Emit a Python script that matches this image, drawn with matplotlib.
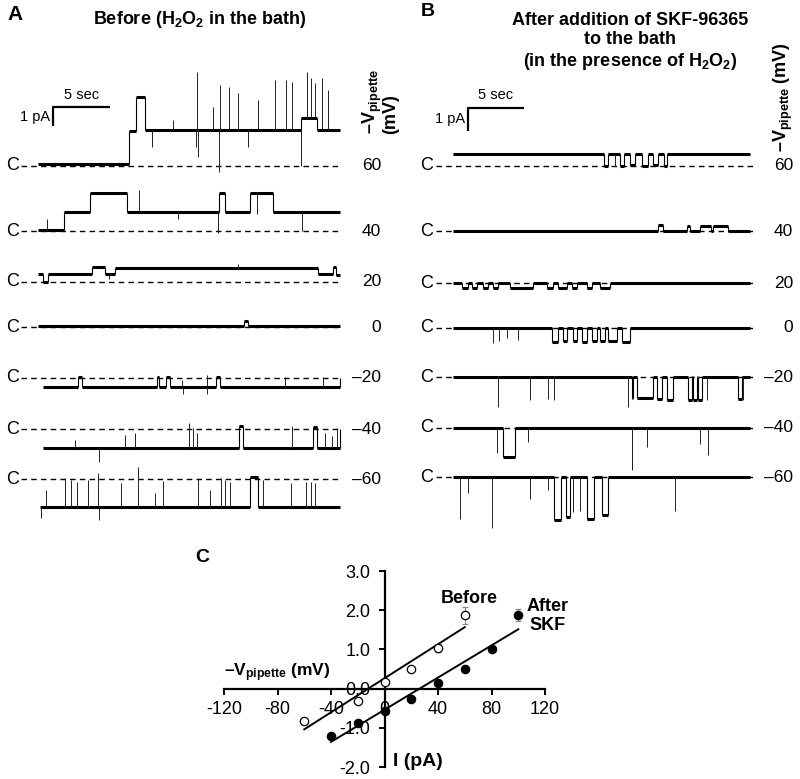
import numpy as np
import matplotlib
matplotlib.use("Agg")
import matplotlib.pyplot as plt

plt.rcParams['font.family'] = ['Liberation Sans', 'DejaVu Sans']
plt.rcParams['mathtext.fontset'] = 'custom'
plt.rcParams['mathtext.rm'] = 'Liberation Sans'
plt.rcParams['mathtext.bf'] = 'Liberation Sans:bold'
plt.rcParams['axes.unicode_minus'] = False

# ---- data: holding potentials ----
volts = [60, 40, 20, 0, -20, -40, -60]

# ---- panel A traces (Before): segments (t0, t1, pA), short events, spikes (t, pA) ----
A60_seg = [(0, 8.0, 0.1), (8.0, 8.6, 1.8), (8.6, 9.4, 3.6), (9.4, 23.2, 1.87), (23.2, 24.6, 2.5), (24.6, 26.6, 1.87)]
A60_evt = []
A60_spk = [(11.93, 2.38), (14.0, 4.89), (15.46, 3.07), (16.05, 4.2), (16.84, 4.11), (17.61, 3.77), (19.37, 3.42),
           (20.9, 4.46), (21.87, 4.46), (22.4, 4.37), (23.75, 4.89), (24.1, 4.54), (24.4, 4.3), (25.04, 4.54),
           (25.6, 3.94), (10.02, 1.0), (13.93, 1.0), (14.1, 0.48), (15.96, -0.3), (18.55, 1.0), (23.19, 0.0)]

A40_seg = [(0, 2.3, 0.05), (2.3, 4.59, 1.0), (4.59, 7.82, 1.98), (7.82, 16.0, 1.0), (16.0, 16.45, 1.98),
           (16.45, 18.7, 1.0), (18.7, 20.75, 1.98), (20.75, 26.6, 1.0)]
A40_evt = []
A40_spk = [(0.77, 0.6), (8.94, 2.1), (19.3, 0.9), (12.37, 0.6), (15.85, -0.1), (23.25, 0.0)]

A20_seg = [(0, 0.45, 0.4), (0.45, 0.9, 0.0), (0.9, 4.73, 0.4), (4.73, 5.9, 0.8), (5.9, 6.79, 0.4),
           (6.79, 24.7, 0.72), (24.7, 26.0, 0.4), (26.0, 26.3, 0.8), (26.3, 26.6, 0.35)]
A20_evt = []
A20_spk = [(17.6, 0.95), (6.3, 0.15)]

A0_seg = [(0, 26.6, 0.05)]
A0_evt = [(18.2, 18.55, 0.3)]
A0_spk = []

Am20_seg = [(0.4, 26.6, -0.45)]
Am20_evt = [(3.56, 3.85, 0.05), (10.47, 10.7, 0.05), (11.26, 11.64, 0.05), (15.7, 16.05, 0.05)]
Am20_spk = [(12.67, -0.1), (14.87, 0.15), (21.78, 0.05), (25.16, 0.05), (12.8, -0.85), (14.9, -0.85)]

Am40_seg = [(0.4, 26.6, -0.97)]
Am40_evt = [(17.72, 18.05, 0.15), (24.28, 24.63, 0.1)]
Am40_spk = [(8.55, -0.22), (13.34, 0.3), (13.64, 0.05), (14.0, -0.2), (22.37, 0.14), (25.3, -0.2),
            (25.9, -0.35), (26.4, 0.05), (5.41, -1.69), (3.26, -0.57), (7.67, -0.3)]

Am60_seg = [(0.2, 26.6, -1.43)]
Am60_evt = [(18.7, 19.43, 0.1)]
Am60_spk = [(0.25, -2.0), (0.71, -0.57), (2.38, 0.03), (2.88, -0.05), (3.41, -0.14), (4.44, -0.05), (5.26, 0.29),
            (5.35, -2.12), (7.29, -0.21), (8.79, 0.64), (10.32, -0.72), (11.05, -0.12), (14.14, 0.05),
            (15.17, -0.55), (16.14, 0.05), (16.49, -0.05), (16.93, -0.14), (19.87, -0.05), (22.28, -0.21),
            (23.63, -0.14), (24.05, -0.14), (24.43, -0.21)]

# ---- panel B traces (After SKF-96365) ----
B60_seg = [(0, 26.5, 0.52)]
B60_evt = [(13.48, 13.87, 0.0), (14.9, 15.27, 0.0), (15.8, 16.25, 0.05), (16.85, 17.44, 0.0),
           (17.9, 18.33, 0.05), (18.8, 19.13, 0.0)]
B60_spk = [(14.46, 0.0)]

B40_seg = [(0, 26.5, 0.0)]
B40_evt = [(18.33, 18.78, 0.25), (20.86, 21.16, 0.2), (22.05, 23.0, 0.2), (23.2, 24.58, 0.2)]
B40_spk = []

B20_seg = [(0, 26.5, 0.0)]
B20_evt = [(0.77, 1.37, -0.23), (1.67, 2.11, -0.23), (2.71, 3.15, -0.23), (3.6, 4.05, -0.23), (5.09, 7.17, -0.23),
           (8.37, 8.96, -0.23), (9.4, 10.15, -0.23), (10.6, 11.04, -0.23), (11.94, 12.38, -0.23), (13.13, 14.0, -0.23)]
B20_spk = []

B0_seg = [(0, 26.5, 0.0)]
B0_evt = [(8.81, 9.4, -0.6), (9.85, 10.15, -0.55), (10.74, 11.1, -0.55), (11.49, 11.94, -0.6),
          (12.38, 12.83, -0.55), (13.13, 13.57, -0.55), (13.87, 14.61, -0.55), (15.06, 15.8, -0.6)]
B0_spk = [(3.54, -0.66), (4.11, -0.55), (4.79, -0.45), (5.83, -0.5)]

Bm20_seg = [(0, 26.5, 0.0)]
Bm20_evt = [(15.95, 16.1, -0.9), (16.46, 17.88, -0.9), (18.18, 18.63, -0.95), (19.08, 19.67, -1.0),
            (21.01, 21.31, -1.0), (21.46, 21.76, -1.0), (21.9, 22.2, -1.0), (25.48, 25.78, -0.95)]
Bm20_spk = [(3.99, -1.3), (6.88, -1.0), (8.51, -0.93), (9.02, -1.0), (15.65, -1.3), (22.71, -1.0), (25.92, -1.0)]

Bm40_seg = [(0, 26.5, 0.0)]
Bm40_evt = [(4.44, 5.54, -1.25)]
Bm40_spk = [(3.9, -1.07), (6.73, -0.6), (15.95, -1.8), (17.29, -0.8), (22.05, -0.7), (22.8, -1.15)]

Bm60_seg = [(0, 26.5, 0.0)]
Bm60_evt = [(9.02, 9.61, -1.85), (10.09, 10.45, -1.7), (11.94, 12.59, -1.8), (13.27, 13.87, -1.65)]
Bm60_spk = [(0.63, -1.8), (1.37, -0.7), (3.45, -2.2), (6.88, -0.95), (8.51, -0.55), (10.74, -1.5),
            (11.34, -1.45), (19.82, -1.45)]

A_traces = [(A60_seg, A60_evt, A60_spk), (A40_seg, A40_evt, A40_spk), (A20_seg, A20_evt, A20_spk),
            (A0_seg, A0_evt, A0_spk), (Am20_seg, Am20_evt, Am20_spk), (Am40_seg, Am40_evt, Am40_spk),
            (Am60_seg, Am60_evt, Am60_spk)]
B_traces = [(B60_seg, B60_evt, B60_spk), (B40_seg, B40_evt, B40_spk), (B20_seg, B20_evt, B20_spk),
            (B0_seg, B0_evt, B0_spk), (Bm20_seg, Bm20_evt, Bm20_spk), (Bm40_seg, Bm40_evt, Bm40_spk),
            (Bm60_seg, Bm60_evt, Bm60_spk)]

# ---- panel C: I-V data ----
iv_v_before = [-60, -20, 0, 20, 40, 60]
iv_i_before = [-0.82, -0.31, 0.18, 0.49, 1.04, 1.87]
iv_e_before = [0.05, 0.05, 0.04, 0.04, 0.1, 0.22]
iv_v_after = [-40, -20, 0, 20, 40, 60, 80, 100]
iv_i_after = [-1.21, -0.87, -0.56, -0.26, 0.15, 0.49, 1.0, 1.87]
iv_e_after = [0.08, 0.05, 0.05, 0.04, 0.05, 0.05, 0.05, 0.15]

# ---- layout (pixels of the 800x779 figure) ----
W, H = 800, 779
fig = plt.figure(figsize=(W / 100, H / 100), dpi=100)


def fx(px):
    return px / W


def fy(py):
    return 1 - py / H


def step_runs(seg, evt, dt=0.005):
    t0 = min(s[0] for s in seg)
    t1 = max(s[1] for s in seg)
    t = np.arange(t0, t1, dt)
    y = np.zeros_like(t)
    for a, b, v in list(seg) + list(evt):
        y[(t >= a) & (t < b)] = v
    idx = np.flatnonzero(np.diff(y)) + 1
    starts = np.r_[0, idx]
    ends = np.r_[idx, len(t)]
    return t, y, [(t[s], t[e - 1] + dt, y[s]) for s, e in zip(starts, ends)]


def draw_panel(traces, bases, x0, pps, ppa, dash0, dash1, c_x, lab_x):
    axs = []
    for (seg, evt, spk), base, v in zip(traces, bases, volts):
        lo, hi = -4.0, 5.0
        ax = fig.add_axes([fx(dash0), fy(base + (-lo) * ppa), fx(dash1 - dash0), (hi - lo) * ppa / H])
        ax.set_xlim((dash0 - x0) / pps, (dash1 - x0) / pps)
        ax.set_ylim(lo, hi)
        ax.axis('off')
        ax.patch.set_alpha(0)
        xl = ax.get_xlim()
        ax.hlines(0, xl[0], xl[1], colors='black', lw=1.0, linestyles=(0, (4, 3)), zorder=1)
        t, y, runs = step_runs(seg, evt)
        for a, b, lv in runs:
            ax.hlines(lv, a, b, colors='black', lw=2.2, zorder=3)
        for r0, r1 in zip(runs[:-1], runs[1:]):
            ax.vlines(r0[1], r0[2], r1[2], colors='black', lw=0.8, zorder=3)
        for ts, lv in spk:
            yb = y[np.argmin(np.abs(t - ts))]
            ax.vlines(ts, yb, lv, colors='#222222', lw=0.7, zorder=3)
        ax.text((c_x - x0) / pps, 0, 'C', ha='right', va='center', fontsize=13)
        ax.text((lab_x - x0) / pps, 0, f"{v}".replace('-', '\u2013'), ha='right', va='center', fontsize=12.5)
        axs.append(ax)
    return axs


A_bases = [166, 231, 282, 327, 378, 429, 479]
B_bases = [166, 231, 283, 328, 377, 428, 477]

axA = draw_panel(A_traces, A_bases, 38, 11.34, 19.3, 21, 342, 19, 381)
axB = draw_panel(B_traces, B_bases, 453, 11.2, 23.3, 436, 753, 433, 793)

# scale bars (1 pA, 5 sec)
for ax, tc, yc in [(axA[0], 1.32, 3.06), (axB[0], 1.34, 2.5)]:
    ax.plot([tc, tc, tc + 5], [yc - 1, yc, yc], color='black', lw=1.6, solid_capstyle='butt')
    ax.text(tc + 2.5, yc + 0.25, '5 sec', ha='center', va='bottom', fontsize=10.5)
    ax.text(tc - 0.25, yc - 0.5, '1 pA', ha='right', va='center', fontsize=10.5)

# titles and panel letters
fig.text(fx(7), fy(15), 'A', fontsize=15, fontweight='bold', va='center', ha='left')
fig.text(fx(421), fy(12), 'B', fontsize=14, fontweight='bold', va='center', ha='left')
fig.text(fx(195), fy(557), 'C', fontsize=14, fontweight='bold', va='center', ha='left')
fig.text(fx(200), fy(20), 'Before (H$_\\mathbf{2}$O$_\\mathbf{2}$ in the bath)', fontsize=13, fontweight='bold',
         ha='center', va='center')
fig.text(fx(630), fy(42), 'After addition of SKF-96365\nto the bath\n(in the presence of H$_\\mathbf{2}$O$_\\mathbf{2}$)',
         fontsize=13, fontweight='bold', ha='center', va='center', linespacing=1.2)

vlab = '\u2013$\\mathbf{V_{pipette}}$'
fig.text(fx(380), fy(134), vlab + '\n(mV)', rotation=90, fontsize=13, fontweight='bold',
         ha='center', va='bottom', multialignment='left', linespacing=0.9)
fig.text(fx(783), fy(97), vlab + ' (mV)', rotation=90, fontsize=13, fontweight='bold', ha='center', va='center')

# ---- panel C ----
axC = fig.add_axes([fx(224), fy(767), fx(545 - 224), (767 - 571) / H])
axC.set_xlim(-120, 120)
axC.set_ylim(-2, 3)
for s in ['top', 'right']:
    axC.spines[s].set_visible(False)
axC.spines['left'].set_position(('data', 0))
axC.spines['bottom'].set_position(('data', 0))
axC.spines['left'].set_linewidth(1.6)
axC.spines['bottom'].set_linewidth(1.6)
axC.set_xticks(np.arange(-120, 121, 40))
axC.set_yticks(np.arange(-2, 3.01, 1))
axC.set_yticklabels([f"{v:.1f}" for v in np.arange(-2, 3.01, 1)])
axC.tick_params(axis='both', labelsize=13, width=1.4, length=4, direction='out')
axC.tick_params(axis='x', pad=5)
axC.tick_params(axis='y', pad=6)
axC.patch.set_alpha(0)

for vv, ii, ee, face in [(iv_v_before, iv_i_before, iv_e_before, 'white'),
                         (iv_v_after, iv_i_after, iv_e_after, 'black')]:
    k, b = np.polyfit(vv, ii, 1)
    xs = np.array([min(vv), max(vv)])
    axC.plot(xs, k * xs + b, color='black', lw=1.4, zorder=2)
    axC.errorbar(vv, ii, yerr=ee, fmt='o', ms=6, mfc=face, mec='black', mew=0.9,
                 ecolor='#888888', elinewidth=0.8, capsize=2, zorder=3)

axC.text(63, 2.3, 'Before', fontsize=13, fontweight='bold', ha='center', va='center')
axC.text(122, 1.84, 'After\nSKF', fontsize=13, fontweight='bold', ha='center', va='center', linespacing=1.15)
fig.text(fx(224), fy(673), '\u2013$\\mathbf{V_{pipette}}$ (mV)', fontsize=12.5, fontweight='bold',
         ha='left', va='center')
fig.text(fx(393), fy(762), 'I (pA)', fontsize=14, fontweight='bold', ha='left', va='center')

fig.savefig('out.png', dpi=100)
